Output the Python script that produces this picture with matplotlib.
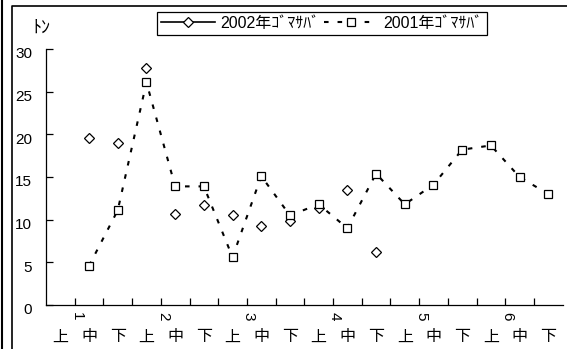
import numpy as np
import matplotlib
matplotlib.use("Agg")
import matplotlib.pyplot as plt
from matplotlib.lines import Line2D
from matplotlib.transforms import blended_transform_factory, ScaledTranslation

plt.rcParams['font.family'] = ['Liberation Sans', 'Noto Sans CJK JP']

# Ten-day periods (上旬・中旬・下旬) for January to June
months = ['1', '2', '3', '4', '5', '6']
periods = ['上', '中', '下']

# Landings of chub mackerel (tons) per ten-day period
catch_2002 = [None, 19.6, 19.0, 27.8, 10.7, 11.7, 10.6, 9.3, 9.9, 11.4, 13.5, 6.2,
              None, None, None, None, None, None]
catch_2001 = [None, 4.6, 11.1, 26.1, 13.9, 13.9, 5.6, 15.1, 10.5, 11.8, 9.0, 15.4,
              11.8, 14.1, 18.2, 18.7, 15.0, 13.0]

y_ticks = [0, 5, 10, 15, 20, 25, 30]
unit_label = 'ﾄﾝ'
label_2002 = '2002年ｺﾞﾏｻﾊﾞ'
label_2001 = '2001年ｺﾞﾏｻﾊﾞ'

W, H = 567, 349
fig = plt.figure(figsize=(W / 100, H / 100), dpi=100)
ax = fig.add_axes([46 / W, 44 / H, 516.6 / W, 256 / H])

n = len(months) * len(periods)
x = np.arange(n)
y02 = np.array([np.nan if v is None else v for v in catch_2002], dtype=float)
y01 = np.array([np.nan if v is None else v for v in catch_2001], dtype=float)

ax.plot(x, y02, ls='none', marker='D', ms=5.5, mfc='white', mec='black',
        mew=0.9, zorder=3)
ax.plot(x, y01, color='black', lw=1.5, dashes=(2.2, 4.3), marker='s', ms=6,
        mfc='white', mec='black', mew=0.9, zorder=4)

ax.set_xlim(-0.5, n - 0.5)
ax.set_ylim(0, 30)
for s in ['top', 'right']:
    ax.spines[s].set_visible(False)
for s in ['left', 'bottom']:
    ax.spines[s].set_linewidth(0.9)
    ax.spines[s].set_color('black')

ax.set_xticks(np.arange(0.5, n - 1, 1))
ax.set_xticklabels([])
ax.set_yticks(y_ticks)
ax.set_yticklabels([str(v) for v in y_ticks], fontsize=11)
ax.tick_params(axis='both', direction='in', length=5, width=0.9, color='black')
ax.tick_params(axis='y', pad=10)
shift = ScaledTranslation(0, -4 / 100, fig.dpi_scale_trans)
for lab in ax.get_yticklabels():
    lab.set_transform(lab.get_transform() + shift)

# Two-level category axis: month numbers, then 上/中/下
tr = blended_transform_factory(ax.transData, fig.transFigure)
for i, m in enumerate(months):
    ax.text(3 * i + 0.57, 1 - 316 / H, m, rotation=-90, ha='center', va='center',
            fontsize=11, transform=tr, clip_on=False)
for i in range(n):
    ax.text(i, 1 - 337 / H, periods[i % 3], ha='center', va='center',
            fontsize=11.5, transform=tr, clip_on=False)

fig.text(41 / W, 1 - 28 / H, unit_label, ha='center', va='center', fontsize=13)

# Legend
h02 = Line2D([], [], color='black', lw=1.2, marker='D', ms=5.5, mfc='white',
             mec='black', mew=0.9)
h01 = Line2D([], [], color='black', lw=1.5, dashes=(2.2, 4.3), marker='s', ms=6,
             mfc='white', mec='black', mew=0.9)
leg = ax.legend([h02, h01], [label_2002, label_2001], ncol=2, loc='upper left',
                bbox_to_anchor=(157 / W, 1 - 12 / H), bbox_transform=fig.transFigure,
                frameon=True, fancybox=False, framealpha=1, edgecolor='black',
                fontsize=11.5, handlelength=3.4, handletextpad=0.3, columnspacing=0.3,
                borderpad=0.25, borderaxespad=0)
leg.get_frame().set_linewidth(0.9)

# Chart frame
fig.add_artist(Line2D([2 / W, 2 / W], [0, 1], color='black', lw=1.5,
                      transform=fig.transFigure))
fig.add_artist(Line2D([11.5 / W, 11.5 / W, 1], [0, 1 - 5.5 / H, 1 - 5.5 / H],
                      color='black', lw=1.2, transform=fig.transFigure))

fig.savefig('out.png', dpi=100)
